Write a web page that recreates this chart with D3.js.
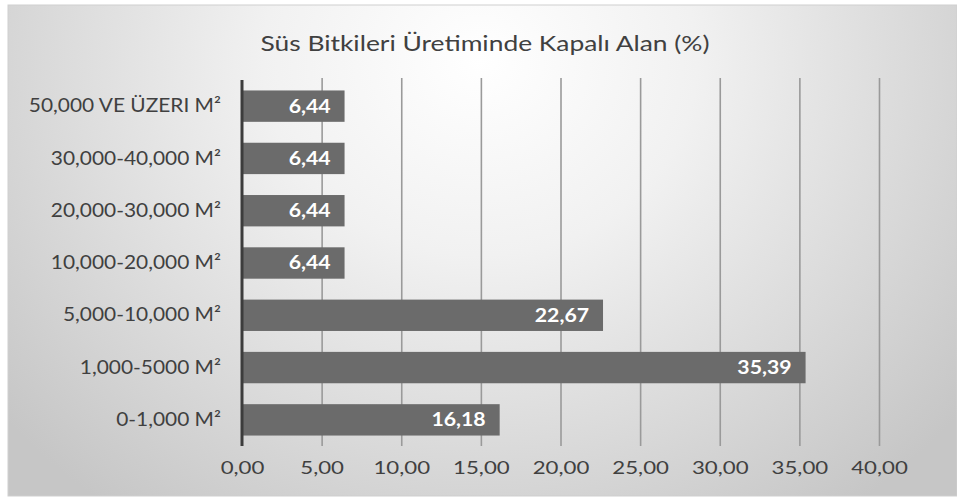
<!DOCTYPE html>
<head>
  <meta charset="utf-8">
  <title>Süs Bitkileri Üretiminde Kapalı Alan</title>
  <style>
    body { margin: 0; background: #fff; }
    svg text { font-family: Lato, "Open Sans", sans-serif; }
  </style>
</head>
<body>
<svg width="957" height="497"></svg>
<script src="https://cdn.jsdelivr.net/npm/d3@7"></script>
<script>

// data (top to bottom)
var categories = ["50,000 VE ÜZERI M²", "30,000-40,000 M²", "20,000-30,000 M²", "10,000-20,000 M²",
                  "5,000-10,000 M²", "1,000-5000 M²", "0-1,000 M²"];
var values = [6.44, 6.44, 6.44, 6.44, 22.67, 35.39, 16.18];
var tickValues = [0, 5, 10, 15, 20, 25, 30, 35, 40];
var title = "Süs Bitkileri Üretiminde Kapalı Alan (%)";

var svg = d3.select("svg"),
    width = 957,
    height = 497;

var comma = function(v) { return d3.format(".2f")(v).replace(".", ","); };

// the original picture is stretched sideways a little, so text gets a horizontal scale
var labelScale = 1.1, tickScale = 1.27, valScale = 1.18, titleScale = 1.2;

// background box with soft radial gradient
var defs = svg.append("defs");
var grad = defs.append("radialGradient")
    .attr("id", "bg")
    .attr("gradientUnits", "userSpaceOnUse")
    .attr("cx", 480).attr("cy", 60).attr("r", 620)
    .attr("gradientTransform", "translate(480,60) scale(1,0.9) translate(-480,-60)");
grad.append("stop").attr("offset", "0").attr("stop-color", "#ffffff");
grad.append("stop").attr("offset", "0.35").attr("stop-color", "#f1f1f1");
grad.append("stop").attr("offset", "1").attr("stop-color", "#c6c6c6");

svg.append("rect")
    .attr("x", 8).attr("y", 5)
    .attr("width", width - 8).attr("height", height - 6)
    .attr("fill", "url(#bg)")
    .attr("stroke", "#cfcfcf")
    .attr("stroke-width", 1);

var x = d3.scaleLinear().domain([0, 40]).range([242, 879]);
var y = d3.scaleBand().domain(categories).range([80, 446]).paddingInner(0.4).paddingOuter(0.2);

// title
svg.append("text")
    .attr("transform", "translate(485,51) scale(" + titleScale + ",1)")
    .attr("text-anchor", "middle")
    .attr("fill", "#404040")
    .style("font-size", "22px")
    .text(title);

// gridlines via axis
var grid = svg.append("g")
    .attr("transform", "translate(0,446)")
    .call(d3.axisBottom(x).tickValues(tickValues.slice(1)).tickSize(-368).tickFormat(""));
grid.select(".domain").remove();
grid.selectAll("line").attr("stroke", "#9a9a9a").attr("stroke-width", 1.6).attr("y2", -368);

// bars
svg.selectAll("rect.bar")
  .data(values)
  .enter().append("rect")
    .attr("class", "bar")
    .attr("x", x(0))
    .attr("y", function(d, i) { return y(categories[i]); })
    .attr("width", function(d) { return x(d) - x(0); })
    .attr("height", y.bandwidth())
    .attr("fill", "#6b6b6b");

// value labels
svg.selectAll("text.val")
  .data(values)
  .enter().append("text")
    .attr("class", "val")
    .attr("transform", function(d, i) {
      return "translate(" + (x(d) - 14) + "," + (y(categories[i]) + y.bandwidth() / 2) + ") scale(" + valScale + ",1)";
    })
    .attr("dy", "0.36em")
    .attr("text-anchor", "end")
    .attr("fill", "#ffffff")
    .style("font-size", "18px")
    .style("font-weight", "bold")
    .text(comma);

// x tick labels
var xa = svg.append("g")
    .attr("transform", "translate(0,446)")
    .call(d3.axisBottom(x).tickValues(tickValues).tickSize(0).tickPadding(16).tickFormat(comma));
xa.select(".domain").remove();
xa.selectAll("text")
    .attr("transform", "scale(" + tickScale + ",1)")
    .attr("fill", "#404040")
    .style("font-size", "17.5px")
    .style("font-family", "Lato, sans-serif");

// y axis (category labels + dark axis line)
var ya = svg.append("g")
    .attr("transform", "translate(" + x(0) + ",0)")
    .call(d3.axisLeft(y).tickSize(0).tickPadding(21));
ya.select(".domain")
    .attr("d", "M0,80V446")
    .attr("stroke", "#3c3c3c")
    .attr("stroke-width", 3);
ya.selectAll("text")
    .attr("x", -21 / labelScale)
    .attr("transform", "scale(" + labelScale + ",1)")
    .attr("fill", "#404040")
    .style("font-size", "19px")
    .style("font-family", "Lato, sans-serif");

</script>
</body>
